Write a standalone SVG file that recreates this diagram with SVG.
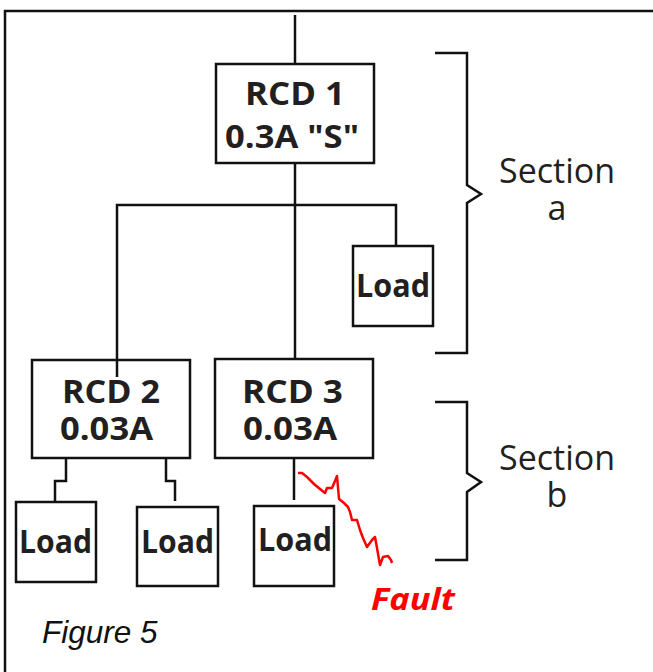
<svg xmlns="http://www.w3.org/2000/svg" width="653" height="672" viewBox="0 0 653 672">
<style>
.ln{fill:none;stroke:#111;stroke-width:2.5}
.box{fill:#fff;stroke:#111;stroke-width:2.5}
.bt{font-family:"Open Sans","Noto Sans",sans-serif;font-weight:bold;fill:#231f20;font-size:32px}
.st{font-family:"Open Sans","Noto Sans",sans-serif;fill:#231f20;font-size:34px;text-anchor:middle}
</style>
<rect x="0" y="0" width="653" height="672" fill="#fff"/>
<path class="ln" d="M5,672 V11 H653"/>
<g id="connectors">
<path class="ln" d="M295,15 V64"/>
<path class="ln" d="M295,163 V360"/>
<path class="ln" d="M117,377 V205 H396 V257"/>
<path class="ln" d="M66,458 V481 H55 V501"/>
<path class="ln" d="M166,458 V481 H175 V501"/>
<path class="ln" d="M294,458 V500"/>
</g>
<g id="rcd1"><rect class="box" x="216" y="64" width="158" height="99"/>
<text class="bt" x="245" y="105" textLength="100" lengthAdjust="spacingAndGlyphs">RCD 1</text>
<text class="bt" x="225" y="148" textLength="134" lengthAdjust="spacingAndGlyphs">0.3A "S"</text></g>
<g id="load-a"><rect class="box" x="353" y="246" width="80" height="80"/>
<text class="bt" x="356" y="297" textLength="74" lengthAdjust="spacingAndGlyphs">Load</text></g>
<g id="rcd2"><rect class="box" x="32" y="360" width="158" height="98"/>
<path class="ln" d="M117,360 V377"/>
<text class="bt" x="62" y="403" textLength="98" lengthAdjust="spacingAndGlyphs">RCD 2</text>
<text class="bt" x="60" y="440" textLength="93" lengthAdjust="spacingAndGlyphs">0.03A</text></g>
<g id="rcd3"><rect class="box" x="215" y="359" width="158" height="99"/>
<text class="bt" x="242" y="403" textLength="101" lengthAdjust="spacingAndGlyphs">RCD 3</text>
<text class="bt" x="243" y="440" textLength="94" lengthAdjust="spacingAndGlyphs">0.03A</text></g>
<g id="load1"><rect class="box" x="16" y="502" width="80" height="80"/>
<text class="bt" x="19" y="553" textLength="73" lengthAdjust="spacingAndGlyphs">Load</text></g>
<g id="load2"><rect class="box" x="137" y="507" width="81" height="79"/>
<text class="bt" x="141" y="553" textLength="73" lengthAdjust="spacingAndGlyphs">Load</text></g>
<g id="load3"><rect class="box" x="254" y="506" width="80" height="80"/>
<text class="bt" x="258" y="551" textLength="74" lengthAdjust="spacingAndGlyphs">Load</text></g>
<g id="section-a">
<path class="ln" d="M435,53 H467 V185 L481,194 L467,203 V353 H435"/>
<text class="st" x="557" y="183">Section</text>
<text class="st" x="557" y="220">a</text></g>
<g id="section-b">
<path class="ln" d="M435,402 H467 V473 L481,482 L467,492 V560 H435"/>
<text class="st" x="557" y="470">Section</text>
<text class="st" x="557" y="507">b</text></g>
<g id="fault">
<path fill="none" stroke="#ff0000" stroke-width="2.5" stroke-linejoin="round" d="M298,473 H302 L307,477 L314,484 L320,489 L325,493 L327,488 L332,488 L335,481 L337,476 L339,499 L344,503 L348,507 L350,512 L352,520 L357,520 L360,530 L363,538 L367,547 L372,540 L375,537 L377,548 L380,565 L383,557 L388,556 L391,560 L392,563"/>
<text x="371" y="610" font-family="'Open Sans','Noto Sans',sans-serif" font-weight="bold" font-style="italic" font-size="31" fill="#ff0000" textLength="84" lengthAdjust="spacingAndGlyphs">Fault</text></g>
<text x="42" y="643" font-family="'Liberation Sans',Arial,sans-serif" font-style="italic" font-size="31.5" fill="#111">Figure 5</text>
</svg>
